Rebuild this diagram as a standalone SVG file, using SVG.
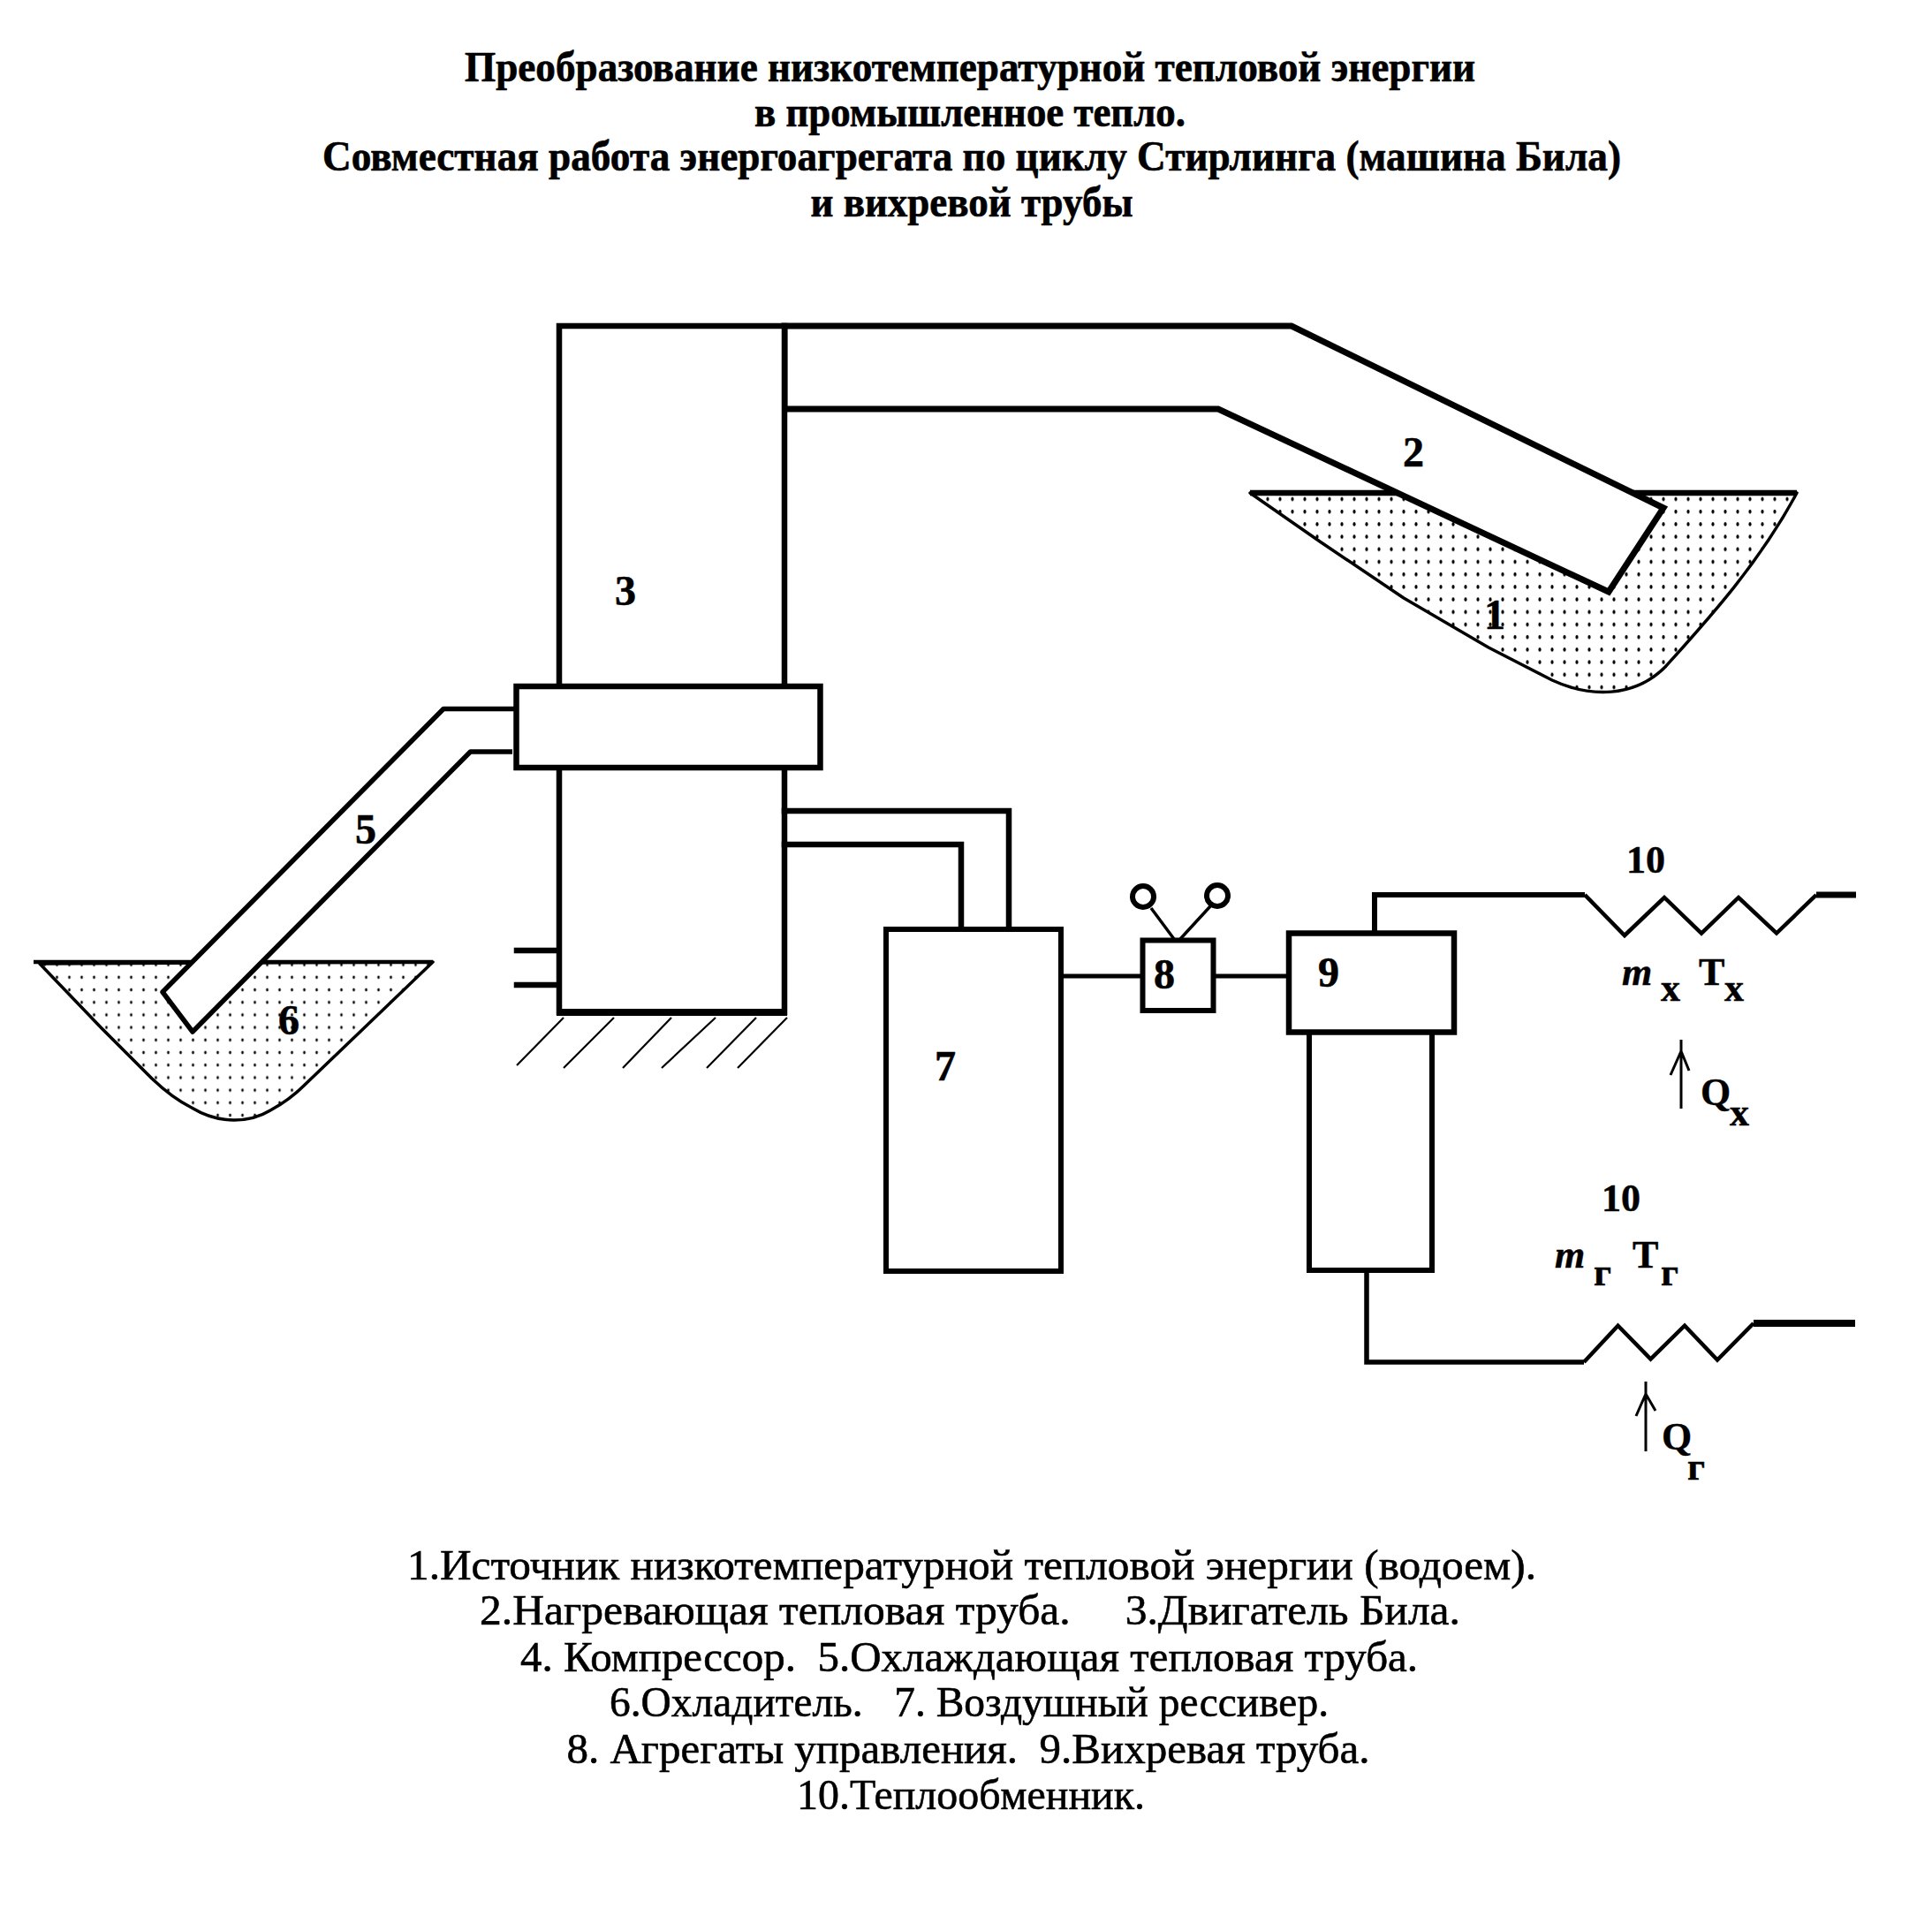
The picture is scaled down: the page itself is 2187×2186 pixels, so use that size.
<svg xmlns="http://www.w3.org/2000/svg" width="2187" height="2186" viewBox="0 0 2187 2186">
<style>
text{font-family:"Liberation Serif","Times New Roman",serif;fill:#000;stroke:#000;white-space:pre}
.t{font-weight:bold;font-size:49px;text-anchor:middle;stroke-width:.7}
.l{font-size:49px;text-anchor:middle;stroke-width:.6}
.n{font-weight:bold;font-size:48px;text-anchor:middle;stroke-width:.6}
.s{font-weight:bold;font-size:44px;stroke-width:.5}
.sub{font-weight:bold;font-size:44px;stroke-width:.5}
.q{font-size:44px;font-weight:bold;stroke-width:.3}
.o{fill:none;stroke:#000;stroke-width:6.5;stroke-linejoin:miter;stroke-linecap:square}
.w{fill:#fff;stroke:#000;stroke-width:7;stroke-linejoin:miter}
.th{stroke:#000;stroke-width:3.5;stroke-linejoin:round}
.h{fill:none;stroke:#000;stroke-width:2.2}
.ar{fill:none;stroke:#000;stroke-width:3}
</style>
<defs>
<pattern id="dots1" patternUnits="userSpaceOnUse" x="1442" y="558" width="14" height="14.2"><ellipse cx="7" cy="7" rx="1.6" ry="2.2"/></pattern>
<pattern id="dots6" patternUnits="userSpaceOnUse" x="85.5" y="1085" width="14" height="14.2"><ellipse cx="7" cy="7" rx="1.3" ry="1.9"/></pattern>
</defs>
<rect width="2187" height="2186" fill="#fff"/>
<g id="title">
<text class="t" x="1098" y="92" textLength="1144" lengthAdjust="spacingAndGlyphs">Преобразование низкотемпературной тепловой энергии</text>
<text class="t" x="1098" y="143" textLength="488" lengthAdjust="spacingAndGlyphs">в промышленное тепло.</text>
<text class="t" x="1100" y="193" textLength="1470" lengthAdjust="spacingAndGlyphs">Совместная работа энергоагрегата по циклу Стирлинга (машина Била)</text>
<text class="t" x="1100" y="245" textLength="365" lengthAdjust="spacingAndGlyphs">и вихревой трубы</text>
</g>
<g id="pond-1">
<path id="pond-1-body" class="th" fill="url(#dots1)" d="M1415 558L1494 613L1589 677L1685 733L1757 770C1800 790 1850 790 1885 755C1930 705 1990 640 2034 558Z"/>
<path d="M1415 558H2034" fill="none" stroke="#000" stroke-width="6.5"/>
<text class="n" x="1692" y="712">1</text>
</g>
<g id="pipe-2">
<path class="w" d="M888 369H1462L1883 575L1821 670L1379 463H888Z"/>
<text class="n" x="1600" y="528">2</text>
</g>
<g id="engine-3">
<path d="M633 369H888V1146H633Z" fill="#fff" stroke="none"/>
<path class="o" d="M633 777V369H888V777M888 869V1146M633 869V1146"/>
<path d="M630 1146H891" fill="none" stroke="#000" stroke-width="8"/>
<text class="n" x="708" y="685">3</text>
<path class="o" d="M585 1076H631M585 1115H631"/>
<path class="h" d="M638 1152L585 1206M695 1152L638 1209M760 1152L705 1209M810 1152L749 1209M856 1152L800 1209M891 1152L835 1209"/>
</g>
<g id="pond-6">
<path id="pond-6-body" class="th" fill="url(#dots6)" d="M45 1091L115 1164L172 1221Q195 1243 217 1254Q240 1268 265 1268Q288 1268 306 1257Q328 1245 344 1229L415 1161L490 1089Z"/>
<path d="M38 1089H490" fill="none" stroke="#000" stroke-width="4.5"/>
<text class="n" x="327" y="1171">6</text>
</g>
<g id="pipe-5">
<path d="M582 802.5H502L184 1123L218 1168L532.5 851H580" fill="#fff" stroke="#000" stroke-width="5.5" stroke-linejoin="round"/>
<text class="n" x="414" y="955">5</text>
</g>
<g id="compressor-4">
<rect x="584.5" y="777" width="344" height="92" fill="#fff" stroke="#000" stroke-width="6.5"/>
</g>
<g id="receiver-7">
<rect x="1003" y="1052" width="198" height="387" fill="#fff" stroke="#000" stroke-width="6"/>
<text class="n" x="1070" y="1223">7</text>
</g>
<g id="control-8">
<rect x="1293.5" y="1064.5" width="80" height="79.5" fill="#fff" stroke="#000" stroke-width="6"/>
<circle cx="1294" cy="1015" r="12" fill="#fff" stroke="#000" stroke-width="6"/>
<circle cx="1378" cy="1014" r="12" fill="#fff" stroke="#000" stroke-width="6"/>
<path d="M1303 1028L1329 1063M1370 1026L1336 1063" fill="none" stroke="#000" stroke-width="3.5"/>
<text class="n" x="1318" y="1119">8</text>
</g>
<g id="vortex-9">
<rect x="1482" y="1168" width="139" height="270" fill="#fff" stroke="#000" stroke-width="6"/>
<rect x="1459" y="1056.5" width="187" height="112" fill="#fff" stroke="#000" stroke-width="6.5"/>
<text class="n" x="1504" y="1117">9</text>
</g>
<g id="exchanger-10-cold">
<path d="M1794 1013L1839 1059L1884 1016L1926 1056.5L1968 1016L2011 1056.5L2056 1013" fill="none" stroke="#000" stroke-width="4.5" stroke-linejoin="miter"/>
<text class="s" x="1863" y="988" text-anchor="middle">10</text>
<text class="s" x="1836" y="1115" font-style="italic">m</text>
<text class="sub" x="1880" y="1133">х</text>
<text class="s" x="1923" y="1115">Т</text>
<text class="sub" x="1952" y="1133">х</text>
<path class="ar" d="M1903 1177V1255M1891 1217L1903 1190L1912 1212"/>
<text class="q" x="1925" y="1251">Q</text>
<text class="sub" x="1958" y="1274">х</text>
</g>
<g id="exchanger-10-hot">
<path d="M1793 1542L1831.5 1500.7L1868.5 1538.5L1907 1500.7L1944 1539.5L1985 1498" fill="none" stroke="#000" stroke-width="4.5" stroke-linejoin="miter"/>
<text class="s" x="1835" y="1371" text-anchor="middle">10</text>
<text class="s" x="1760" y="1435" font-style="italic">m</text>
<text class="sub" x="1804" y="1455">г</text>
<text class="s" x="1848" y="1435">Т</text>
<text class="sub" x="1880" y="1455">г</text>
<path class="ar" d="M1863 1564V1643M1852 1603L1863 1578L1874 1597"/>
<text class="q" x="1881" y="1641">Q</text>
<text class="sub" x="1910" y="1675">г</text>
</g>
<g id="connectors">
<path class="o" d="M888 918H1142V1050M888 956H1088V1050"/>
<path d="M1201 1105H1293M1373 1105H1459" fill="none" stroke="#000" stroke-width="5"/>
<path d="M1556 1056V1013H1794" fill="none" stroke="#000" stroke-width="6"/>
<path d="M2056 1013H2101" fill="none" stroke="#000" stroke-width="7"/>
<path d="M1547 1439V1542H1793" fill="none" stroke="#000" stroke-width="5.5"/>
<path d="M1985 1498H2100" fill="none" stroke="#000" stroke-width="8"/>
</g>
<g id="legend">
<text class="l" x="1100" y="1788" textLength="1278" lengthAdjust="spacingAndGlyphs">1.Источник низкотемпературной тепловой энергии (водоем).</text>
<text class="l" x="1098" y="1839" textLength="1110" lengthAdjust="spacingAndGlyphs">2.Нагревающая тепловая труба.     3.Двигатель Била.</text>
<text class="l" x="1097" y="1892" textLength="1016" lengthAdjust="spacingAndGlyphs">4. Компрессор.  5.Охлаждающая тепловая труба.</text>
<text class="l" x="1097" y="1943" textLength="814" lengthAdjust="spacingAndGlyphs">6.Охладитель.   7. Воздушный рессивер.</text>
<text class="l" x="1096" y="1996" textLength="909" lengthAdjust="spacingAndGlyphs">8. Агрегаты управления.  9.Вихревая труба.</text>
<text class="l" x="1099" y="2048" textLength="394" lengthAdjust="spacingAndGlyphs">10.Теплообменник.</text>
</g>
</svg>
